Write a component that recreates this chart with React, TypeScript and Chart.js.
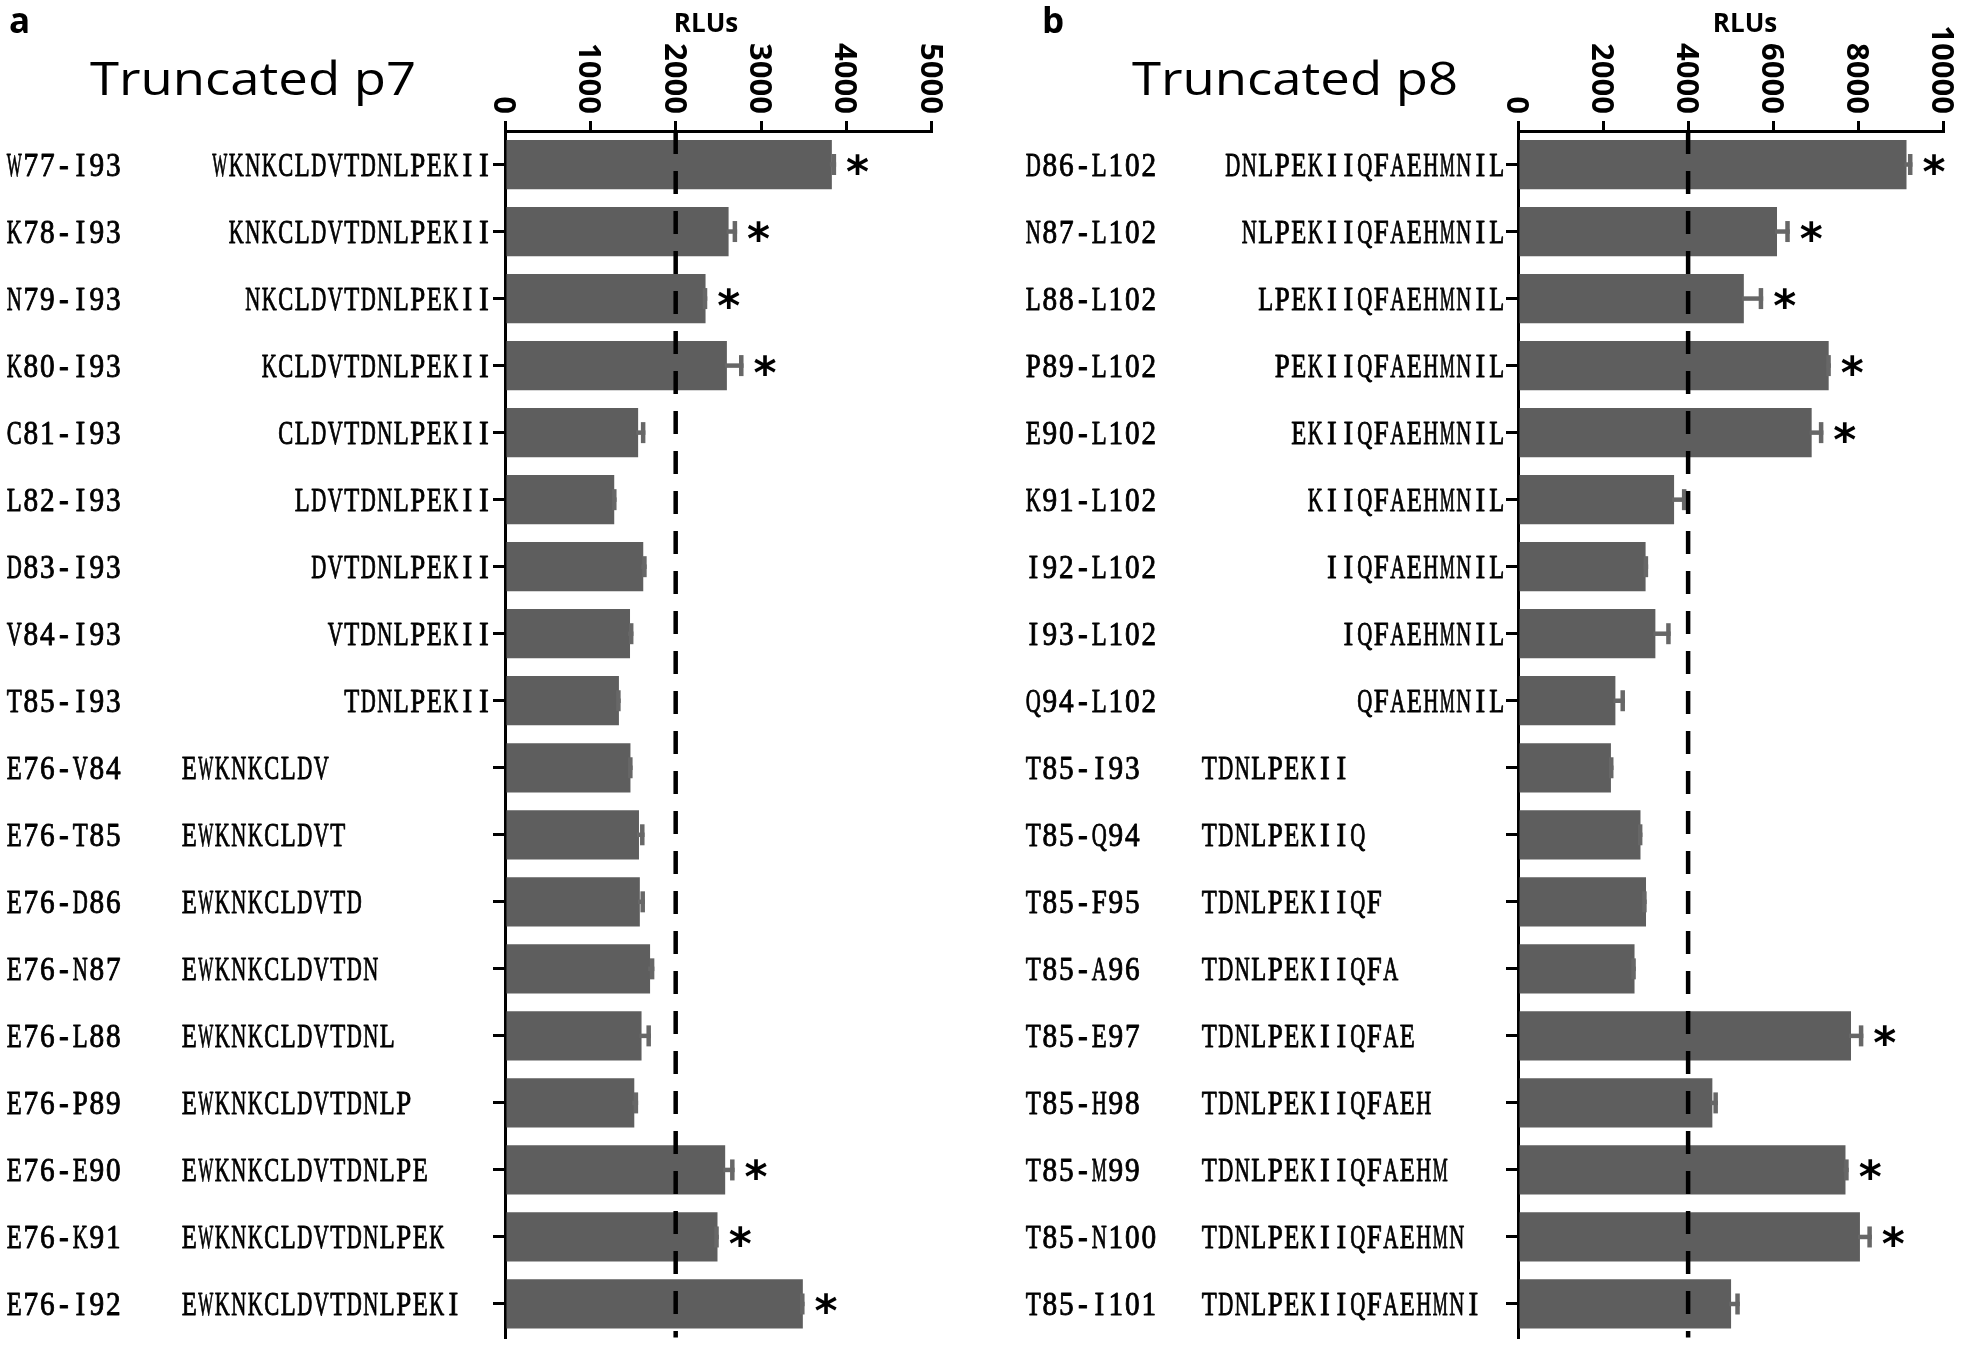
import React, { useEffect, useRef } from 'react';
import { Chart, registerables } from 'chart.js';

Chart.register(...registerables);

// ---------- Panel a : Truncated p7 ----------
const rangesA = [
  'W77-I93', 'K78-I93', 'N79-I93', 'K80-I93', 'C81-I93', 'L82-I93', 'D83-I93', 'V84-I93', 'T85-I93',
  'E76-V84', 'E76-T85', 'E76-D86', 'E76-N87', 'E76-L88', 'E76-P89', 'E76-E90', 'E76-K91', 'E76-I92',
];
const seqsA = [
  'WKNKCLDVTDNLPEKII', 'KNKCLDVTDNLPEKII', 'NKCLDVTDNLPEKII', 'KCLDVTDNLPEKII', 'CLDVTDNLPEKII',
  'LDVTDNLPEKII', 'DVTDNLPEKII', 'VTDNLPEKII', 'TDNLPEKII',
  'EWKNKCLDV', 'EWKNKCLDVT', 'EWKNKCLDVTD', 'EWKNKCLDVTDN', 'EWKNKCLDVTDNL', 'EWKNKCLDVTDNLP',
  'EWKNKCLDVTDNLPE', 'EWKNKCLDVTDNLPEK', 'EWKNKCLDVTDNLPEKI',
];
const valuesA = [3830, 2620, 2350, 2600, 1560, 1280, 1620, 1465, 1335, 1470, 1570, 1580, 1700, 1600, 1515, 2580, 2490, 3490];
const errorsA = [50, 100, 20, 195, 85, 27, 40, 40, 20, 25, 65, 60, 50, 110, 45, 110, 15, 20];
const sigA = [true, true, true, true, false, false, false, false, false, false, false, false, false, false, false, true, true, true];
const xTicksA = [0, 1000, 2000, 3000, 4000, 5000];
const thresholdA = 2000;

// ---------- Panel b : Truncated p8 ----------
const rangesB = [
  'D86-L102', 'N87-L102', 'L88-L102', 'P89-L102', 'E90-L102', 'K91-L102', 'I92-L102', 'I93-L102', 'Q94-L102',
  'T85-I93', 'T85-Q94', 'T85-F95', 'T85-A96', 'T85-E97', 'T85-H98', 'T85-M99', 'T85-N100', 'T85-I101',
];
const seqsB = [
  'DNLPEKIIQFAEHMNIL', 'NLPEKIIQFAEHMNIL', 'LPEKIIQFAEHMNIL', 'PEKIIQFAEHMNIL', 'EKIIQFAEHMNIL',
  'KIIQFAEHMNIL', 'IIQFAEHMNIL', 'IQFAEHMNIL', 'QFAEHMNIL',
  'TDNLPEKII', 'TDNLPEKIIQ', 'TDNLPEKIIQF', 'TDNLPEKIIQFA', 'TDNLPEKIIQFAE', 'TDNLPEKIIQFAEH',
  'TDNLPEKIIQFAEHM', 'TDNLPEKIIQFAEHMN', 'TDNLPEKIIQFAEHMNI',
];
const valuesB = [9135, 6090, 5310, 7305, 6905, 3670, 3000, 3230, 2290, 2185, 2880, 3010, 2740, 7830, 4570, 7700, 8040, 5010];
const errorsB = [140, 300, 455, 50, 275, 290, 60, 360, 225, 60, 45, 15, 30, 290, 130, 75, 280, 205];
const sigB = [true, true, true, true, true, false, false, false, false, false, false, false, false, true, false, true, true, false];
const xTicksB = [0, 2000, 4000, 6000, 8000, 10000];
const thresholdB = 4000;

const axisTitle = 'RLUs';

type Panel = {
  letter: string;
  title: string;
  ranges: string[];
  seqs: string[];
  values: number[];
  errors: number[];
  sig: boolean[];
  xTicks: number[];
  threshold: number;
  leftPrefix: string;
  canvasWidth: number;
  axisLeft: number;
  padRight: number;
  rangeX: number;
  seqLeftX: number;
  letterX: number;
  titleX: number;
  rlusX: number;
};

const panelA: Panel = {
  letter: 'a', title: 'Truncated p7',
  ranges: rangesA, seqs: seqsA, values: valuesA, errors: errorsA, sig: sigA,
  xTicks: xTicksA, threshold: thresholdA, leftPrefix: 'E76-',
  canvasWidth: 980, axisLeft: 505, padRight: 48.3,
  rangeX: 6, seqLeftX: 181, letterX: 9, titleX: 90, rlusX: 706,
};

const panelB: Panel = {
  letter: 'b', title: 'Truncated p8',
  ranges: rangesB, seqs: seqsB, values: valuesB, errors: errorsB, sig: sigB,
  xTicks: xTicksB, threshold: thresholdB, leftPrefix: 'T85-',
  canvasWidth: 981, axisLeft: 538, padRight: 17.7,
  rangeX: 45, seqLeftX: 221, letterX: 62, titleX: 152, rlusX: 765,
};

const BAR_COLOR = '#5e5e5e';
const ERR_COLOR = '#676767';
const LABEL_FONT = '34px "Liberation Serif"';
const CELL = 16.5;

function scaledText(ctx: CanvasRenderingContext2D, text: string, x: number, y: number, font: string, sx: number, align: CanvasTextAlign) {
  ctx.save();
  ctx.font = font;
  ctx.textAlign = align;
  ctx.textBaseline = 'alphabetic';
  ctx.translate(x, y);
  ctx.scale(sx, 1);
  ctx.fillText(text, 0, 0);
  ctx.restore();
}

// fixed-pitch serif text (each glyph centred in its own cell, condensed to fit)
function monoText(ctx: CanvasRenderingContext2D, text: string, x: number, y: number, align: 'left' | 'right') {
  ctx.save();
  ctx.font = LABEL_FONT;
  ctx.textAlign = 'center';
  ctx.textBaseline = 'alphabetic';
  ctx.fillStyle = '#000';
  ctx.strokeStyle = '#000';
  ctx.lineWidth = 0.9;
  ctx.lineJoin = 'round';
  const total = text.length * CELL;
  const start = align === 'right' ? x - total : x;
  for (let i = 0; i < text.length; i++) {
    const ch = text[i];
    const w = ctx.measureText(ch).width;
    const sx = Math.min(0.86, 15 / w);
    ctx.save();
    ctx.translate(start + (i + 0.5) * CELL, y);
    ctx.scale(sx, 1);
    ctx.fillText(ch, 0, 0);
    ctx.strokeText(ch, 0, 0);
    ctx.restore();
  }
  ctx.restore();
}

function decorPlugin(p: Panel) {
  return {
    id: 'decor',
    afterDatasetsDraw(chart: any) {
      const ctx: CanvasRenderingContext2D = chart.ctx;
      const xs = chart.scales.x;
      const ys = chart.scales.y;
      const area = chart.chartArea;

      // error bars (positive side)
      ctx.save();
      ctx.strokeStyle = ERR_COLOR;
      ctx.lineWidth = 4.5;
      ctx.lineCap = 'butt';
      p.values.forEach((v, i) => {
        const y = ys.getPixelForValue(i);
        const x0 = xs.getPixelForValue(v);
        const x1 = xs.getPixelForValue(v + p.errors[i]);
        ctx.beginPath();
        ctx.moveTo(x0 - 2, y);
        ctx.lineTo(x1, y);
        ctx.stroke();
        ctx.beginPath();
        ctx.moveTo(x1 - 2.25, y - 10.5);
        ctx.lineTo(x1 - 2.25, y + 10.5);
        ctx.stroke();
      });
      ctx.restore();

      // dashed threshold line
      ctx.save();
      const xt = xs.getPixelForValue(p.threshold);
      ctx.strokeStyle = '#000';
      ctx.lineWidth = 4.5;
      ctx.setLineDash([23, 17]);
      ctx.beginPath();
      ctx.moveTo(xt, area.top);
      ctx.lineTo(xt, area.bottom);
      ctx.stroke();
      ctx.restore();

      // significance stars
      ctx.save();
      ctx.font = 'bold 44px "DejaVu Sans"';
      ctx.fillStyle = '#000';
      ctx.textAlign = 'left';
      ctx.textBaseline = 'alphabetic';
      const m = ctx.measureText('*');
      p.values.forEach((v, i) => {
        if (!p.sig[i]) return;
        const y = ys.getPixelForValue(i);
        const xe = xs.getPixelForValue(v + p.errors[i]);
        const baseline = y + (m.actualBoundingBoxAscent - m.actualBoundingBoxDescent) / 2;
        ctx.fillText('*', xe + 10 + m.actualBoundingBoxLeft, baseline);
      });
      ctx.restore();
    },
    afterDraw(chart: any) {
      const ctx: CanvasRenderingContext2D = chart.ctx;
      const xs = chart.scales.x;
      const ys = chart.scales.y;
      const area = chart.chartArea;
      ctx.save();
      ctx.fillStyle = '#000';

      // x tick labels, rotated
      ctx.font = 'bold 31px "Open Sans"';
      const capH = ctx.measureText('0').actualBoundingBoxAscent;
      p.xTicks.forEach((v) => {
        const x = xs.getPixelForValue(v);
        ctx.save();
        ctx.translate(x, area.top - 17);
        ctx.rotate(Math.PI / 2);
        ctx.textAlign = 'right';
        ctx.textBaseline = 'alphabetic';
        ctx.fillText(String(v), 0, capH / 2);
        ctx.restore();
      });

      // category labels
      p.ranges.forEach((r, i) => {
        const y = ys.getPixelForValue(i) + 11;
        monoText(ctx, r, p.rangeX, y, 'left');
        if (r.startsWith(p.leftPrefix)) {
          monoText(ctx, p.seqs[i], p.seqLeftX, y, 'left');
        } else {
          monoText(ctx, p.seqs[i], area.left - 13, y, 'right');
        }
      });

      // panel letter, axis title, panel title
      scaledText(ctx, p.letter, p.letterX, 33, 'bold 35px "Open Sans"', 1, 'left');
      scaledText(ctx, axisTitle, p.rlusX, 32, 'bold 26px "Open Sans"', 1, 'center');
      scaledText(ctx, p.title, p.titleX, 95, '45px "Open Sans"', 1.17, 'left');
      ctx.restore();
    },
  };
}

function PanelChart({ panel, left }: { panel: Panel; left: number }) {
  const ref = useRef<HTMLCanvasElement>(null);
  useEffect(() => {
    if (!ref.current) return;
    const step = panel.xTicks[1] - panel.xTicks[0];
    const chart = new Chart(ref.current, {
      type: 'bar',
      data: {
        labels: panel.ranges,
        datasets: [
          {
            data: panel.values,
            backgroundColor: BAR_COLOR,
            borderWidth: 0,
            barPercentage: 0.735,
            categoryPercentage: 1,
          },
        ],
      },
      options: {
        indexAxis: 'y',
        responsive: false,
        animation: false,
        devicePixelRatio: 1,
        layout: { padding: { left: 0, top: 0, right: panel.padRight, bottom: 9.5 } },
        plugins: {
          legend: { display: false },
          tooltip: { enabled: false },
          title: { display: false },
        },
        scales: {
          x: {
            position: 'top',
            min: panel.xTicks[0],
            max: panel.xTicks[panel.xTicks.length - 1],
            ticks: { display: false, stepSize: step },
            grid: { drawOnChartArea: false, drawTicks: true, tickLength: 10, lineWidth: 3, color: '#000' },
            border: { display: true, width: 3, color: '#000' },
            afterFit: (s: any) => { s.height = 131; },
          },
          y: {
            ticks: { display: false },
            grid: { offset: false, drawOnChartArea: false, drawTicks: true, tickLength: 12, lineWidth: 3, color: '#000' },
            border: { display: true, width: 3, color: '#000' },
            afterFit: (s: any) => { s.width = panel.axisLeft; },
          },
        },
      } as any,
      plugins: [decorPlugin(panel)],
    });
    return () => chart.destroy();
  }, [panel]);
  return (
    <canvas
      ref={ref}
      width={panel.canvasWidth}
      height={1347}
      style={{ position: 'absolute', left, top: 0, width: panel.canvasWidth, height: 1347 }}
    />
  );
}

export default function App() {
  return (
    <div style={{ position: 'fixed', left: 0, top: 0, width: 1961, height: 1347, background: '#fff', overflow: 'hidden' }}>
      <PanelChart panel={panelA} left={0} />
      <PanelChart panel={panelB} left={980} />
    </div>
  );
}
